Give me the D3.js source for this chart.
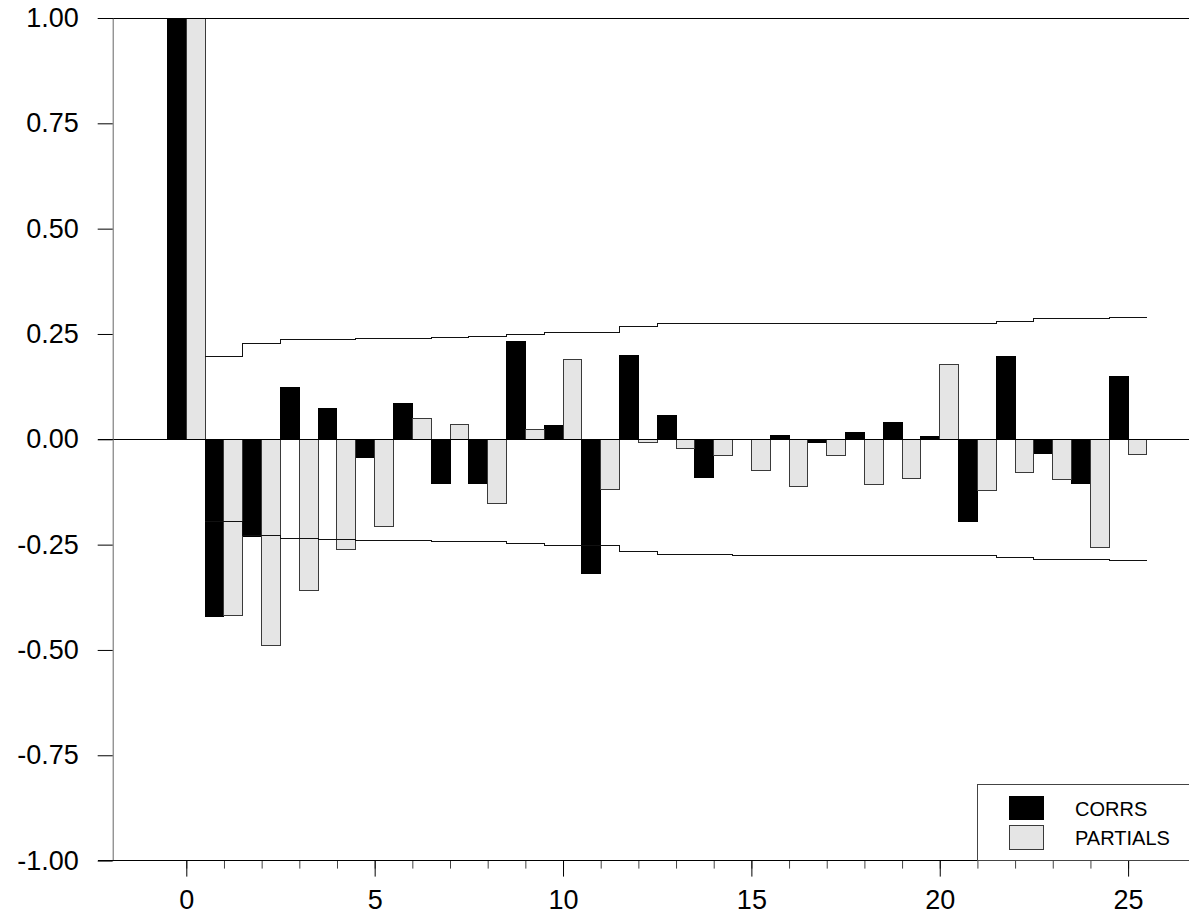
<!DOCTYPE html>
<html>
<head>
<meta charset="utf-8">
<script src="https://cdn.jsdelivr.net/npm/d3@7"></script>
<style>
  html, body { margin: 0; padding: 0; background: #fff; }
  svg { display: block; font-family: "Liberation Sans", Arial, sans-serif; }
</style>
</head>
<body>
<svg id="chart" width="1189" height="915"></svg>
<script>
// Autocorrelations and partial autocorrelations by lag
const lags = [0, 1, 2, 3, 4, 5, 6, 7, 8, 9, 10, 11, 12, 13, 14, 15, 16, 17, 18, 19, 20, 21, 22, 23, 24, 25];
const corrs = [1, -0.420, -0.230, 0.123, 0.074, -0.043, 0.084, -0.106, -0.104, 0.232, 0.032, -0.319, 0.198,
               0.056, -0.090, 0.000, 0.008, -0.008, 0.017, 0.040, 0.007, -0.196, 0.196, -0.033, -0.104, 0.150];
const partials = [1, -0.419, -0.490, -0.359, -0.261, -0.206, 0.050, 0.035, -0.152, 0.024, 0.190, -0.119, -0.008,
                  -0.022, -0.039, -0.074, -0.111, -0.038, -0.107, -0.093, 0.177, -0.122, -0.079, -0.096, -0.256, -0.036];
// Significance limits (±) for lags 1..25
const bandLags = [1, 2, 3, 4, 5, 6, 7, 8, 9, 10, 11, 12, 13, 14, 15, 16, 17, 18, 19, 20, 21, 22, 23, 24, 25];
const bandLimits = [0.196, 0.228, 0.236, 0.238, 0.240, 0.240, 0.2415, 0.2435, 0.2476, 0.253, 0.253, 0.267, 0.2737,
                    0.2737, 0.2753, 0.2753, 0.2753, 0.2753, 0.2753, 0.2753, 0.2753, 0.280, 0.2856, 0.2856, 0.288];
const yTicks = [-1, -0.75, -0.5, -0.25, 0, 0.25, 0.5, 0.75, 1];
const xMajorTicks = [0, 5, 10, 15, 20, 25];
const seriesNames = ["CORRS", "PARTIALS"];

const svg = d3.select("#chart");
const W = 1189;
const axisX = 112.7;

const x = d3.scaleLinear().domain([0, 25]).range([186.3, 1128.1]);
const y = d3.scaleLinear().domain([-1, 1]).range([860.6, 18]);

const colCorr = "#000000";
const colPart = "#e5e5e5";
// plain hyphen for negative tick labels
const fmtY = d => d3.format(".2f")(d).replace("\u2212", "-");

// Bars: CORRS on the left half of each lag, PARTIALS on the right half
const gBars = svg.append("g").attr("shape-rendering", "crispEdges");
gBars.selectAll("rect.corr")
  .data(lags.map((l, i) => ({ lag: l, v: corrs[i] })))
  .join("rect")
  .attr("class", "corr")
  .attr("x", d => x(d.lag - 0.5))
  .attr("width", d => x(d.lag) - x(d.lag - 0.5))
  .attr("y", d => y(Math.max(0, d.v)))
  .attr("height", d => Math.abs(y(d.v) - y(0)))
  .attr("fill", colCorr)
  .attr("stroke", "#000")
  .attr("stroke-width", 1);

gBars.selectAll("rect.part")
  .data(lags.map((l, i) => ({ lag: l, v: partials[i] })))
  .join("rect")
  .attr("class", "part")
  .attr("x", d => x(d.lag))
  .attr("width", d => x(d.lag + 0.5) - x(d.lag))
  .attr("y", d => y(Math.max(0, d.v)))
  .attr("height", d => Math.abs(y(d.v) - y(0)))
  .attr("fill", colPart)
  .attr("stroke", "#3a3a3a")
  .attr("stroke-width", 1);

// Step-shaped significance band
const stepPts = sign => {
  const pts = bandLags.map((l, i) => [l - 0.5, sign * bandLimits[i]]);
  pts.push([bandLags[bandLags.length - 1] + 0.5, sign * bandLimits[bandLimits.length - 1]]);
  return pts;
};
const stepLine = d3.line().x(d => x(d[0])).y(d => y(d[1])).curve(d3.curveStepAfter);
[1, -1].forEach(s => {
  svg.append("path")
    .attr("d", stepLine(stepPts(s)))
    .attr("fill", "none")
    .attr("stroke", "#111")
    .attr("stroke-width", 1)
    .attr("shape-rendering", "crispEdges");
});

// Zero reference line and top frame line
const gLines = svg.append("g").attr("shape-rendering", "crispEdges");
gLines.append("line").attr("x1", 98).attr("x2", W).attr("y1", y(0)).attr("y2", y(0))
  .attr("stroke", "#000").attr("stroke-width", 1);
gLines.append("line").attr("x1", 98).attr("x2", W).attr("y1", y(1)).attr("y2", y(1))
  .attr("stroke", "#000").attr("stroke-width", 1);

// Y axis
const yAxis = d3.axisLeft(y)
  .tickValues(yTicks)
  .tickFormat(fmtY)
  .tickSizeInner(15)
  .tickSizeOuter(0)
  .tickPadding(19);
const gy = svg.append("g").attr("transform", `translate(${axisX},0)`).call(yAxis);
gy.select(".domain").attr("stroke", "#666").attr("stroke-width", 1);
gy.selectAll(".tick line").attr("stroke", "#000").attr("stroke-width", 1);
gy.selectAll(".tick text").attr("font-size", 27).attr("fill", "#000")
  .attr("font-family", "'Liberation Sans', Arial, sans-serif");

// X axis: minor ticks at every lag, labelled major ticks every 5
const gxMinor = svg.append("g").attr("transform", `translate(0,${y(-1)})`)
  .call(d3.axisBottom(x).tickValues(lags).tickFormat("").tickSizeInner(8).tickSizeOuter(0));
gxMinor.select(".domain").remove();
gxMinor.selectAll(".tick line").attr("stroke", "#444").attr("stroke-width", 1);

const gxMajor = svg.append("g").attr("transform", `translate(0,${y(-1)})`)
  .call(d3.axisBottom(x).tickValues(xMajorTicks).tickFormat(d3.format("d")).tickSizeInner(16).tickSizeOuter(0).tickPadding(13));
gxMajor.select(".domain").remove();
gxMajor.selectAll(".tick line").attr("stroke", "#000").attr("stroke-width", 1);
gxMajor.selectAll(".tick text").attr("font-size", 27).attr("fill", "#000")
  .attr("font-family", "'Liberation Sans', Arial, sans-serif");

svg.append("line").attr("x1", 98).attr("x2", W).attr("y1", y(-1)).attr("y2", y(-1))
  .attr("stroke", "#000").attr("stroke-width", 1).attr("shape-rendering", "crispEdges");

// Legend
const gLeg = svg.append("g").attr("shape-rendering", "crispEdges");
gLeg.append("rect").attr("x", 977.5).attr("y", 784.5).attr("width", 260).attr("height", y(-1) - 784.5)
  .attr("fill", "#fff").attr("stroke", "#444").attr("stroke-width", 1);
const legendRows = [
  { name: seriesNames[0], fill: colCorr, stroke: "#000", top: 796 },
  { name: seriesNames[1], fill: colPart, stroke: "#3a3a3a", top: 825.5 }
];
legendRows.forEach(r => {
  gLeg.append("rect").attr("x", 1009.5).attr("y", r.top).attr("width", 34).attr("height", 23.5)
    .attr("fill", r.fill).attr("stroke", r.stroke).attr("stroke-width", 1);
  gLeg.append("text").attr("x", 1075).attr("y", r.top + 19.5)
    .attr("font-size", 20).attr("fill", "#000").text(r.name);
});
</script>
</body>
</html>
